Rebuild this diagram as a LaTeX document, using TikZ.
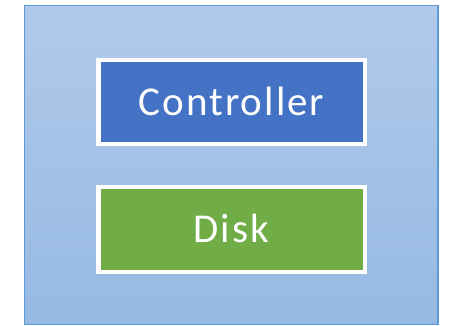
\documentclass[tikz,border=0pt]{standalone}
\usepackage{fontspec}
\setmainfont{Carlito}[LetterSpace=5]
\definecolor{frameblue}{RGB}{91,155,213}
\definecolor{paletop}{RGB}{176,202,233}
\definecolor{palebottom}{RGB}{150,185,227}
\definecolor{ctrlblue}{RGB}{68,114,196}
\definecolor{diskgreen}{RGB}{112,173,71}
\tikzset{
  panel/.style={draw=frameblue, line width=1.5pt, top color=paletop, bottom color=palebottom},
  unit/.style={draw=white, line width=4.4pt, minimum width=266.4pt, minimum height=84pt,
    inner sep=0pt, text=white, font=\fontsize{41}{41}\selectfont,
    text height=26.4pt, text depth=0pt},
}
\begin{document}
\begin{tikzpicture}[x=1pt,y=-1pt]
  \useasboundingbox (0,0) rectangle (449,326);
  \node[panel, minimum width=413.5pt, minimum height=319.2pt, inner sep=0pt] (frame) at (231.25,115.1+50) {};
  \node[unit, fill=ctrlblue] (controller) at (231.5,102) {Controller};
  \node[unit, fill=diskgreen, minimum height=84.8pt] (disk) at (231.5,229.6) {Disk};
\end{tikzpicture}
\end{document}
